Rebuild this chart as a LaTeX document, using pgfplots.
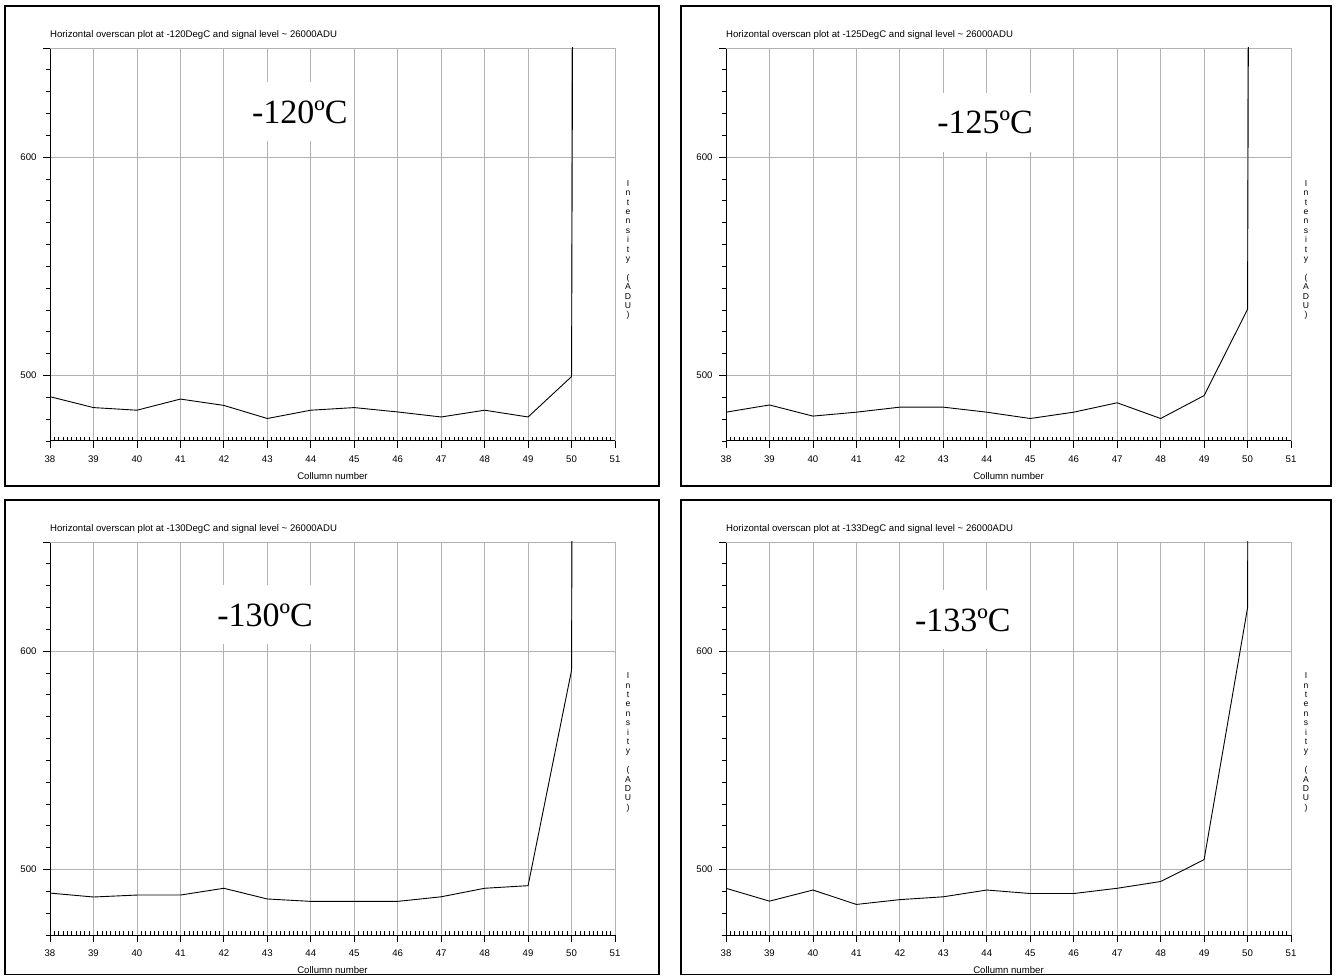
\documentclass[border=0pt]{standalone}
\usepackage{fontspec}
\setmainfont{Liberation Sans}
\newfontfamily\serifbig{Liberation Serif}
\usepackage{pgfplots}
\usepackage{pgfplotstable}
\pgfplotsset{compat=1.18}

% column, intensity (last point: off-scale signal level)
\pgfplotstableread{
x y
38 490.3
39 485.3
40 484.1
41 489.2
42 486.3
43 480.3
44 484.1
45 485.3
46 483.3
47 481.0
48 484.1
49 481.0
50 499.5
51 7000
}\tA
\pgfplotstableread{
x y
38 483.2
39 486.5
40 481.4
41 483.2
42 485.5
43 485.5
44 483.2
45 480.3
46 483.2
47 487.5
48 480.3
49 490.8
50 530.3
51 7000
}\tB
\pgfplotstableread{
x y
38 489.2
39 487.4
40 488.3
41 488.3
42 491.4
43 486.5
44 485.4
45 485.4
46 485.4
47 487.5
48 491.4
49 492.6
50 591.2
51 7000
}\tC
\pgfplotstableread{
x y
38 491.4
39 485.5
40 490.6
41 484.0
42 486.2
43 487.5
44 490.6
45 489.0
46 489.0
47 491.4
48 494.5
49 504.5
50 619.8
51 7000
}\tD

\newcommand{\smallfont}{\fontsize{9.6}{11}\selectfont}
\newcommand{\vlabel}{I\\n\\t\\e\\n\\s\\i\\t\\y\\\mbox{}\\(\\A\\D\\U\\)}

\pgfplotsset{
 ovs/.style={
  scale only axis, width=565pt, height=393pt,
  xmin=38, xmax=51, ymin=470, ymax=650,
  xtick={38,...,51}, minor x tick num=9,
  ytick={500,600}, minor ytick={470,480,...,650},
  extra y ticks={650}, extra y tick labels={},
  axis x line*=bottom, axis y line*=left,
  axis line style={-, black, line width=1pt},
  tick align=outside, major tick length=7pt, minor tick length=4.5pt,
  tick style={draw=black, line width=0.8pt},
  minor x tick style={yshift=4pt},
  grid=major, major grid style={draw=black!30, line width=0.8pt},
  ticklabel style={font=\smallfont},
  xticklabel style={yshift=-4pt},
  yticklabel style={xshift=-3pt},
  /pgf/number format/assume math mode=true,
  xlabel={Collumn number},
  xlabel style={font=\smallfont, at={(axis description cs:0.5,0)}, anchor=center, yshift=-35pt},
  title style={font=\smallfont, at={(axis description cs:0,1)}, anchor=west, yshift=7pt, inner sep=0pt},
  clip mode=individual,
 }
}

\begin{document}
\begin{tikzpicture}
\useasboundingbox (0,0) rectangle (1336pt,975pt);
\draw[line width=1.1pt] (5pt,489pt) rectangle (659pt,969pt);
\draw[line width=1.1pt] (681pt,489pt) rectangle (1331pt,969pt);
\draw[line width=1.1pt] (5pt,0.6pt) rectangle (659pt,475pt);
\draw[line width=1.1pt] (681pt,0.6pt) rectangle (1331pt,475pt);

\begin{axis}[ovs, at={(50pt,534pt)}, anchor=south west,
  title={Horizontal overscan plot at -120DegC and signal level \textasciitilde{} 26000ADU}]
\addplot[black, line width=0.9pt, mark=none] table[x=x,y=y] {\tA};
\node[fill=white, inner xsep=6pt, inner ysep=18pt, font=\serifbig\fontsize{34}{34}\selectfont] at (axis cs:43.75,620.7) {-120ºC};
\node[align=center, font=\fontsize{8.6}{9.4}\selectfont, inner sep=0pt] at (rel axis cs:1,0.486) [xshift=13pt] {\vlabel};
\end{axis}

\begin{axis}[ovs, at={(726pt,534pt)}, anchor=south west,
  title={Horizontal overscan plot at -125DegC and signal level \textasciitilde{} 26000ADU}]
\addplot[black, line width=0.9pt, mark=none] table[x=x,y=y] {\tB};
\node[fill=white, inner xsep=6pt, inner ysep=18pt, font=\serifbig\fontsize{34}{34}\selectfont] at (axis cs:43.96,616) {-125ºC};
\node[align=center, font=\fontsize{8.6}{9.4}\selectfont, inner sep=0pt] at (rel axis cs:1,0.486) [xshift=15pt] {\vlabel};
\end{axis}

\begin{axis}[ovs, at={(50pt,40pt)}, anchor=south west,
  title={Horizontal overscan plot at -130DegC and signal level \textasciitilde{} 26000ADU}]
\addplot[black, line width=0.9pt, mark=none] table[x=x,y=y] {\tC};
\node[fill=white, inner xsep=6pt, inner ysep=18pt, font=\serifbig\fontsize{34}{34}\selectfont] at (axis cs:42.95,616.6) {-130ºC};
\node[align=center, font=\fontsize{8.6}{9.4}\selectfont, inner sep=0pt] at (rel axis cs:1,0.49) [xshift=13pt] {\vlabel};
\end{axis}

\begin{axis}[ovs, at={(726pt,40pt)}, anchor=south west,
  title={Horizontal overscan plot at -133DegC and signal level \textasciitilde{} 26000ADU}]
\addplot[black, line width=0.9pt, mark=none] table[x=x,y=y] {\tD};
\node[fill=white, inner xsep=6pt, inner ysep=18pt, font=\serifbig\fontsize{34}{34}\selectfont] at (axis cs:43.45,614.3) {-133ºC};
\node[align=center, font=\fontsize{8.6}{9.4}\selectfont, inner sep=0pt] at (rel axis cs:1,0.49) [xshift=15pt] {\vlabel};
\end{axis}
\end{tikzpicture}
\end{document}
